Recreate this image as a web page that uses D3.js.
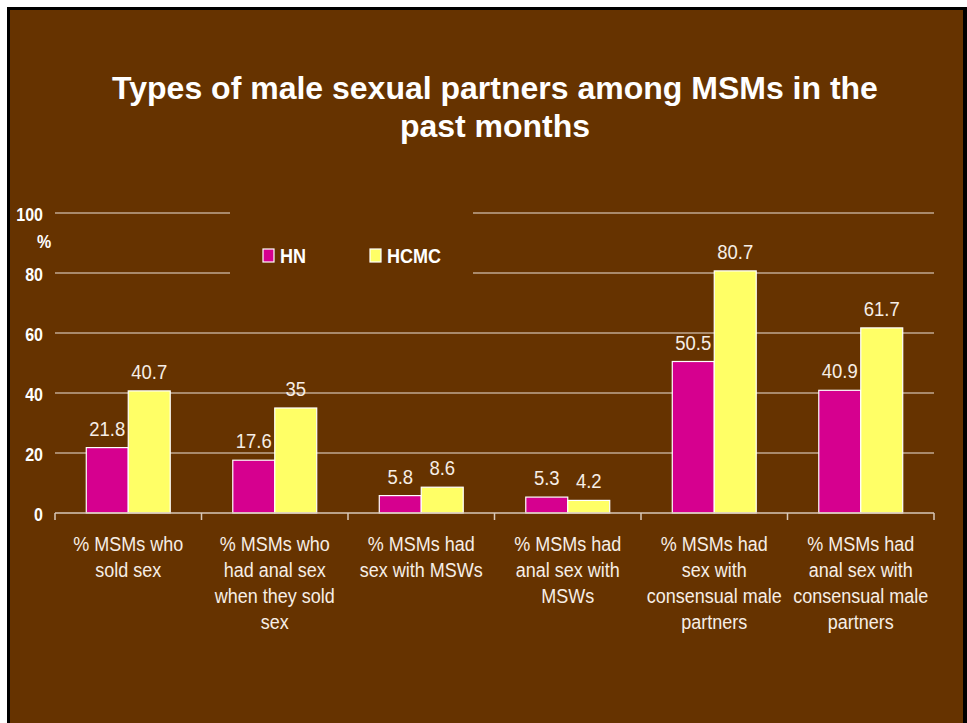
<!DOCTYPE html>
<html lang="en">
<head>
    <meta charset="UTF-8">
    <title>Types of male sexual partners among MSMs</title>
    <script src="https://d3js.org/d3.v7.min.js"></script>
    <style>
        body { margin: 0; background: #ffffff; }
        svg { display: block; }
        text { font-family: "Liberation Sans", Arial, sans-serif; }
    </style>
</head>
<body>
<svg width="967" height="723"></svg>

<script>
    // data
    const categories = [
        ["% MSMs who", "sold sex"],
        ["% MSMs who", "had anal sex", "when they sold", "sex"],
        ["% MSMs had", "sex with MSWs"],
        ["% MSMs had", "anal sex with", "MSWs"],
        ["% MSMs had", "sex with", "consensual male", "partners"],
        ["% MSMs had", "anal sex with", "consensual male", "partners"]
    ];
    const seriesNames = ["HN", "HCMC"];
    const hnValues = [21.8, 17.6, 5.8, 5.3, 50.5, 40.9];
    const hcmcValues = [40.7, 35, 8.6, 4.2, 80.7, 61.7];
    const yTicks = [0, 20, 40, 60, 80, 100];
    const colors = ["#d6008f", "#ffff66"];

    const svg = d3.select("svg");
    const stretch = "scale(1,1.13)";

    // slide frame
    svg.append("rect").attr("x", 7).attr("y", 7).attr("width", 960).attr("height", 720).attr("fill", "#000");
    svg.append("rect").attr("x", 10).attr("y", 10).attr("width", 953).attr("height", 720).attr("fill", "#663300");

    // title
    const title = ["Types of male sexual partners among MSMs in the", "past months"];
    title.forEach(function (t, i) {
        svg.append("text")
            .attr("x", 495)
            .attr("y", 99 + i * 38)
            .attr("text-anchor", "middle")
            .attr("font-size", 32)
            .attr("font-weight", "bold")
            .attr("fill", "#ffffff")
            .text(t);
    });

    const left = 55, right = 934;
    const x0 = d3.scaleBand()
        .domain(d3.range(categories.length))
        .range([left, right])
        .paddingInner(0.427)
        .paddingOuter(0.2135);
    const x1 = d3.scaleBand()
        .domain(seriesNames)
        .range([0, x0.bandwidth()]);
    const y = d3.scaleLinear().domain([0, 100]).range([513, 213]);

    // gridlines
    svg.append("g").selectAll("line")
        .data(yTicks.filter(d => d > 0))
        .enter().append("line")
        .attr("x1", left).attr("x2", right)
        .attr("y1", d => y(d)).attr("y2", d => y(d))
        .attr("stroke", "#ece2d8").attr("stroke-width", 1.2);

    // y tick labels
    svg.append("g").selectAll("text")
        .data(yTicks)
        .enter().append("text")
        .attr("transform", d => "translate(43," + (y(d) + 8) + ") " + stretch)
        .attr("text-anchor", "end")
        .attr("font-size", 16)
        .attr("font-weight", "bold")
        .attr("fill", "#ffffff")
        .text(d => d);
    svg.append("text")
        .attr("transform", "translate(44,248) " + stretch)
        .attr("text-anchor", "middle")
        .attr("font-size", 16)
        .attr("font-weight", "bold")
        .attr("fill", "#ffffff")
        .text("%");

    // bars
    const rows = categories.map((c, i) => [
        {s: "HN", v: hnValues[i], c: colors[0]},
        {s: "HCMC", v: hcmcValues[i], c: colors[1]}
    ]);
    const groups = svg.append("g").selectAll("g")
        .data(rows)
        .enter().append("g")
        .attr("transform", (d, i) => "translate(" + x0(i) + ",0)");
    groups.selectAll("rect")
        .data(d => d)
        .enter().append("rect")
        .attr("x", d => x1(d.s))
        .attr("y", d => y(d.v))
        .attr("width", x1.bandwidth())
        .attr("height", d => y(0) - y(d.v))
        .attr("fill", d => d.c)
        .attr("stroke", "#ffffff")
        .attr("stroke-width", 1.2);
    groups.selectAll("text")
        .data(d => d)
        .enter().append("text")
        .attr("transform", d => "translate(" + (x1(d.s) + x1.bandwidth() / 2) + "," + (y(d.v) - 12) + ") " + stretch)
        .attr("text-anchor", "middle")
        .attr("font-size", 18.5)
        .attr("fill", "#f6eee6")
        .text(d => d.v);

    // category axis
    const step = x0.step();
    const axis = svg.append("g");
    axis.append("line")
        .attr("x1", left).attr("x2", right)
        .attr("y1", y(0)).attr("y2", y(0))
        .attr("stroke", "#d8c8b8").attr("stroke-width", 1.5);
    axis.selectAll("line.tick")
        .data(d3.range(categories.length + 1))
        .enter().append("line")
        .attr("class", "tick")
        .attr("x1", i => left + i * step).attr("x2", i => left + i * step)
        .attr("y1", y(0)).attr("y2", y(0) + 7)
        .attr("stroke", "#d8c8b8").attr("stroke-width", 1.5);
    categories.forEach(function (lines, i) {
        lines.forEach(function (t, j) {
            axis.append("text")
                .attr("transform", "translate(" + (x0(i) + x0.bandwidth() / 2) + "," + (551 + j * 26) + ") " + stretch)
                .attr("text-anchor", "middle")
                .attr("font-size", 18)
                .attr("fill", "#f6eee6")
                .text(t);
        });
    });

    // legend
    const legend = svg.append("g");
    legend.append("rect")
        .attr("x", 230).attr("y", 200).attr("width", 243).attr("height", 90)
        .attr("fill", "#663300");
    const legendX = [263, 370];
    seriesNames.forEach(function (s, i) {
        legend.append("rect")
            .attr("x", legendX[i]).attr("y", 249).attr("width", 11).attr("height", 13)
            .attr("fill", colors[i]).attr("stroke", "#ffffff").attr("stroke-width", 1.2);
        legend.append("text")
            .attr("transform", "translate(" + (legendX[i] + 17) + ",263) " + stretch)
            .attr("font-size", 18)
            .attr("font-weight", "bold")
            .attr("fill", "#ffffff")
            .text(s);
    });
</script>
</body>
</html>
